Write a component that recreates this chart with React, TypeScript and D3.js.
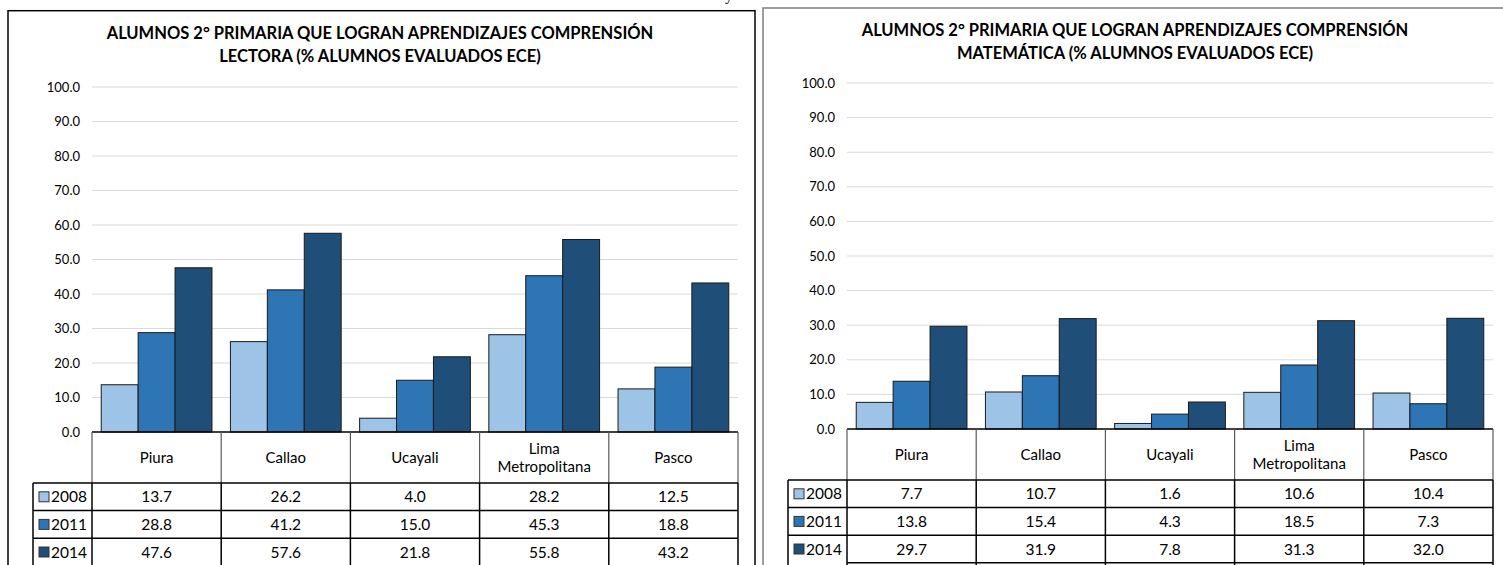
import React from "react";
import * as d3 from "d3";

const categories = ["Piura", "Callao", "Ucayali", "Lima\nMetropolitana", "Pasco"];
const years = ["2008", "2011", "2014"];
const yTicks = [0, 10, 20, 30, 40, 50, 60, 70, 80, 90, 100];

const lectura2008 = [13.7, 26.2, 4.0, 28.2, 12.5];
const lectura2011 = [28.8, 41.2, 15.0, 45.3, 18.8];
const lectura2014 = [47.6, 57.6, 21.8, 55.8, 43.2];

const mate2008 = [7.7, 10.7, 1.6, 10.6, 10.4];
const mate2011 = [13.8, 15.4, 4.3, 18.5, 7.3];
const mate2014 = [29.7, 31.9, 7.8, 31.3, 32.0];

const titleLectura = ["ALUMNOS 2° PRIMARIA QUE LOGRAN APRENDIZAJES COMPRENSIÓN", "LECTORA (% ALUMNOS EVALUADOS ECE)"];
const titleMate = ["ALUMNOS 2° PRIMARIA QUE LOGRAN APRENDIZAJES COMPRENSIÓN", "MATEMÁTICA (% ALUMNOS EVALUADOS ECE)"];

const colors = ["#9DC3E6", "#2E75B6", "#1F4E79"];
const FONT = "Lato, 'Open Sans', sans-serif";

type ChartProps = {
  frameX: number;
  frameY: number;
  frameColor: string;
  plotLeft: number;
  plotRight: number;
  yZero: number;
  yTop: number;
  title: string[];
  series: number[][];
};

function Chart(p: ChartProps) {
  const y = d3.scaleLinear().domain([0, 100]).range([p.yZero, p.yTop]);
  const x = d3.scaleBand<string>().domain(categories).range([p.plotLeft, p.plotRight]).paddingInner(0).paddingOuter(0);
  const bw = x.bandwidth();
  const barW = bw / 3.5;
  const inner = d3.scaleBand<string>().domain(years).range([bw * 0.25 / 3.5, bw - bw * 0.25 / 3.5]).padding(0);
  const headerH = 51;
  const rowH = 27.6;
  const tableTop = p.yZero;
  const rowsTop = tableTop + headerH;
  const legendLeft = p.plotLeft - 59;
  const titleCx = (p.frameX + p.plotRight + 14) / 2;
  return (
    <g>
      <rect x={p.frameX} y={p.frameY} width={747} height={600} fill="#fff" stroke={p.frameColor} strokeWidth={1.5} />
      {p.title.map((t, i) => (
        <text key={i} x={titleCx} y={p.frameY + 28 + i * 23} textAnchor="middle" fontFamily={FONT} fontWeight="bold" fontSize={16.5} fill="#000">
          {t}
        </text>
      ))}
      {yTicks.map((t) => (
        <g key={t}>
          {t > 0 && <line x1={p.plotLeft} x2={p.plotRight} y1={y(t)} y2={y(t)} stroke="#D9D9D9" strokeWidth={1} />}
          <text x={p.plotLeft - 12} y={y(t) + 4.5} textAnchor="end" fontFamily={FONT} fontSize={13} fill="#000">
            {d3.format(".1f")(t)}
          </text>
        </g>
      ))}
      {categories.map((c, ci) => (
        <g key={c}>
          {years.map((yr, si) => {
            const v = p.series[si][ci];
            return (
              <rect
                key={yr}
                x={(x(c) as number) + (inner(yr) as number)}
                y={y(v)}
                width={barW}
                height={y(0) - y(v)}
                fill={colors[si]}
                stroke="#1a1a1a"
                strokeWidth={1}
              />
            );
          })}
        </g>
      ))}
      <line x1={p.plotLeft} x2={p.plotRight} y1={tableTop} y2={tableTop} stroke="#000" strokeWidth={1.5} />
      {categories.map((c) => {
        const cx = (x(c) as number) + bw / 2;
        const lines = c.split("\n");
        return (
          <g key={"h" + c}>
            {lines.map((l, li) => (
              <text key={li} x={cx} y={tableTop + headerH / 2 + 5.5 + (li - (lines.length - 1) / 2) * 18} textAnchor="middle" fontFamily={FONT} fontSize={15} fill="#000">
                {l}
              </text>
            ))}
          </g>
        );
      })}
      {categories.concat(["__end"]).map((c, ci) => {
        const xx = ci < categories.length ? (x(c) as number) : p.plotRight;
        return <line key={"v" + ci} x1={xx} x2={xx} y1={tableTop} y2={rowsTop} stroke="#595959" strokeWidth={1.2} />;
      })}
      {years.map((yr, si) => {
        const ry = rowsTop + si * rowH;
        return (
          <g key={"r" + yr}>
            <line x1={legendLeft} x2={p.plotRight} y1={ry} y2={ry} stroke="#000" strokeWidth={1.5} />
            <rect x={legendLeft + 6} y={ry + rowH / 2 - 5} width={10} height={10} fill={colors[si]} stroke="#333" strokeWidth={1} />
            <text x={legendLeft + 18} y={ry + rowH / 2 + 5.5} fontFamily={FONT} fontSize={15.5} fill="#000">
              {yr}
            </text>
            {categories.map((c, ci) => (
              <text key={c} x={(x(c) as number) + bw / 2} y={ry + rowH / 2 + 5.5} textAnchor="middle" fontFamily={FONT} fontSize={15.5} fill="#000">
                {d3.format(".1f")(p.series[si][ci])}
              </text>
            ))}
          </g>
        );
      })}
      <line x1={p.plotLeft} x2={p.plotRight} y1={rowsTop + 3 * rowH} y2={rowsTop + 3 * rowH} stroke="#000" strokeWidth={1.5} />
      <line x1={legendLeft} x2={legendLeft} y1={rowsTop} y2={rowsTop + 3 * rowH + 5} stroke="#000" strokeWidth={1.5} />
      {categories.concat(["__end"]).map((c, ci) => {
        const xx = ci < categories.length ? (x(c) as number) : p.plotRight;
        return <line key={"vv" + ci} x1={xx} x2={xx} y1={rowsTop} y2={rowsTop + 3 * rowH + 5} stroke="#000" strokeWidth={1.5} />;
      })}
    </g>
  );
}

export default function App() {
  return (
    <svg width={1503} height={565} style={{ position: "absolute", left: 0, top: 0, background: "#fff" }}>
      <rect x={0} y={0} width={1503} height={565} fill="#fff" />
      <text x={725} y={0} fontFamily="'Liberation Serif', serif" fontSize={16} fill="#000">y</text>
      <Chart
        frameX={8}
        frameY={10.7}
        frameColor="#000"
        plotLeft={92}
        plotRight={738}
        yZero={432}
        yTop={87}
        title={titleLectura}
        series={[lectura2008, lectura2011, lectura2014]}
      />
      <Chart
        frameX={763}
        frameY={8}
        frameColor="#7F7F7F"
        plotLeft={847}
        plotRight={1493}
        yZero={429}
        yTop={83}
        title={titleMate}
        series={[mate2008, mate2011, mate2014]}
      />
    </svg>
  );
}
